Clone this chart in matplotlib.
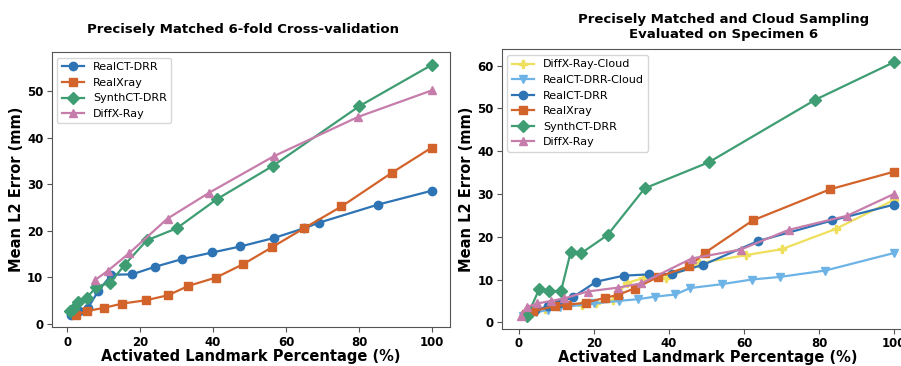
import matplotlib.pyplot as plt

# left panel: 6-fold cross-validation
l_ct_x = [0.9, 3.2, 5.7, 8.5, 12.1, 17.8, 24.0, 31.6, 39.8, 47.5, 56.6, 64.9, 69.0, 85.2, 100]
l_ct_y = [1.9, 2.7, 3.4, 7.0, 10.5, 10.6, 12.2, 13.9, 15.3, 16.6, 18.4, 20.5, 21.7, 25.6, 28.6]
l_xr_x = [2.5, 5.5, 10.2, 15.1, 21.5, 27.7, 33.2, 40.8, 48.3, 56.1, 64.9, 75.2, 89.1, 100]
l_xr_y = [1.9, 2.7, 3.4, 4.3, 5.0, 6.1, 8.1, 9.9, 12.8, 16.4, 20.5, 25.2, 32.5, 37.9]
l_syn_x = [0.7, 1.6, 3.0, 5.3, 8.0, 11.8, 15.8, 21.8, 30.0, 41.1, 56.3, 80.1, 100]
l_syn_y = [2.6, 3.2, 4.7, 5.5, 7.9, 8.8, 12.7, 17.9, 20.5, 26.8, 33.9, 46.8, 55.7]
l_dx_x = [7.5, 11.2, 16.9, 27.5, 39.0, 56.6, 79.8, 100]
l_dx_y = [9.3, 11.4, 15.1, 22.6, 28.2, 36.0, 44.5, 50.2]

# right panel: specimen 6, precisely matched and cloud sampling
r_dxc_x = [1.2, 3.5, 7.0, 10.5, 16.8, 20.6, 25.0, 28.8, 33.0, 39.3, 48.0, 60.5, 70.1, 84.4, 100]
r_dxc_y = [1.8, 2.5, 3.2, 3.7, 4.1, 4.4, 5.3, 9.2, 10.3, 10.3, 13.8, 15.7, 17.1, 21.8, 28.6]
r_ctc_x = [1.0, 4.5, 7.6, 11.0, 20.1, 26.6, 31.7, 36.3, 41.7, 45.6, 54.0, 62.1, 69.5, 81.7, 100]
r_ctc_y = [1.4, 2.3, 2.9, 3.5, 4.4, 5.0, 5.4, 6.0, 6.5, 8.0, 8.9, 10.0, 10.6, 12.1, 16.2]
r_ct_x = [1.5, 4.3, 7.6, 10.6, 14.4, 20.6, 27.9, 34.6, 40.7, 49.0, 63.8, 83.5, 100]
r_ct_y = [1.9, 2.8, 3.7, 4.5, 5.9, 9.5, 10.9, 11.2, 11.3, 13.4, 19.0, 23.8, 27.5]
r_xr_x = [1.8, 3.8, 9.6, 12.8, 17.9, 22.8, 26.3, 30.8, 37.1, 45.4, 49.5, 62.3, 83.0, 100]
r_xr_y = [1.9, 2.6, 3.8, 4.1, 4.6, 5.7, 6.4, 7.9, 10.6, 13.1, 16.2, 23.8, 31.1, 35.2]
r_syn_x = [2.2, 5.4, 8.0, 11.2, 13.8, 16.5, 23.6, 33.5, 50.6, 79.0, 100]
r_syn_y = [1.5, 7.8, 7.3, 7.3, 16.5, 16.1, 20.4, 31.3, 37.4, 52.0, 60.8]
r_dx_x = [0.4, 2.1, 4.9, 8.5, 12.1, 18.3, 26.3, 32.6, 46.0, 59.1, 71.9, 87.5, 100]
r_dx_y = [1.5, 3.6, 4.4, 5.0, 5.6, 7.2, 8.1, 9.1, 14.9, 17.0, 21.6, 24.9, 30.0]

c_blue = '#2e74b5'
c_orange = '#d2632a'
c_green = '#3f9d73'
c_pink = '#c77dab'
c_yellow = '#eedf5c'
c_lblue = '#6db3e6'

fig = plt.figure(figsize=(9.01, 3.66), dpi=100)
ax1 = fig.add_axes([0.0574, 0.106, 0.442, 0.751])
ax2 = fig.add_axes([0.557, 0.101, 0.456, 0.764])

kw = dict(lw=1.6, ms=6)
ax1.plot(l_ct_x, l_ct_y, marker='o', color=c_blue, label='RealCT-DRR', **kw)
ax1.plot(l_xr_x, l_xr_y, marker='s', color=c_orange, label='RealXray', **kw)
ax1.plot(l_syn_x, l_syn_y, marker='D', color=c_green, label='SynthCT-DRR', **kw)
ax1.plot(l_dx_x, l_dx_y, marker='^', color=c_pink, label='DiffX-Ray', **kw)

ax2.plot(r_dxc_x, r_dxc_y, marker='P', color=c_yellow, label='DiffX-Ray-Cloud', **kw)
ax2.plot(r_ctc_x, r_ctc_y, marker='v', color=c_lblue, label='RealCT-DRR-Cloud', **kw)
ax2.plot(r_ct_x, r_ct_y, marker='o', color=c_blue, label='RealCT-DRR', **kw)
ax2.plot(r_xr_x, r_xr_y, marker='s', color=c_orange, label='RealXray', **kw)
ax2.plot(r_syn_x, r_syn_y, marker='D', color=c_green, label='SynthCT-DRR', **kw)
ax2.plot(r_dx_x, r_dx_y, marker='^', color=c_pink, label='DiffX-Ray', **kw)

ax1.set_title('Precisely Matched 6-fold Cross-validation', fontsize=9.5,
              fontweight='bold', x=0.48, pad=14)
ax2.set_title('Precisely Matched and Cloud Sampling\nEvaluated on Specimen 6',
              fontsize=9.5, fontweight='bold', x=0.54, pad=8)

for ax in (ax1, ax2):
    ax.set_xlabel('Activated Landmark Percentage (%)', fontsize=10.5,
                  fontweight='bold', labelpad=0)
    ax.set_ylabel('Mean L2 Error (mm)', fontsize=10.5, fontweight='bold',
                  labelpad=2)
    ax.set_xticks([0, 20, 40, 60, 80, 100])
    ax.tick_params(labelsize=8.5, length=3.5, pad=2.5, color='#555555')
    for sp in ax.spines.values():
        sp.set_color('#555555')
    ax.legend(loc='upper left', fontsize=8)

ax1.set_yticks([0, 10, 20, 30, 40, 50])
ax2.set_yticks([0, 10, 20, 30, 40, 50, 60])
for ax in (ax1, ax2):
    for lab in ax.get_xticklabels() + ax.get_yticklabels():
        lab.set_fontweight('bold')

fig.savefig('out.png', dpi=100)
